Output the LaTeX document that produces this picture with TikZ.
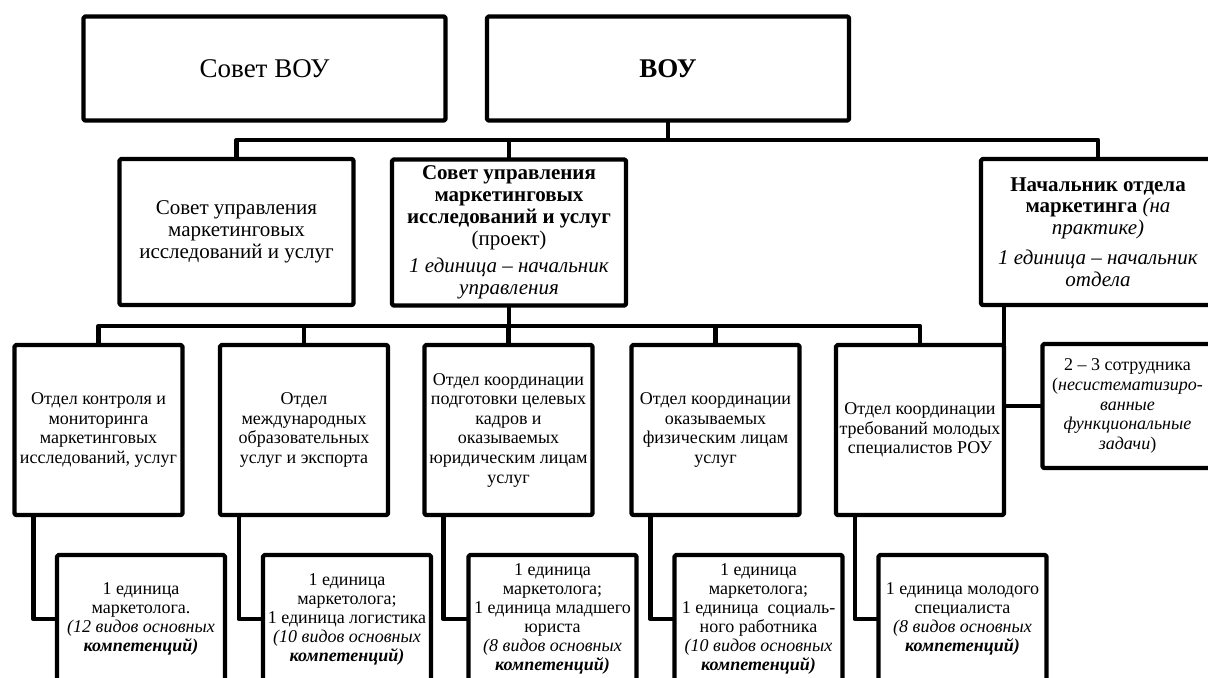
\documentclass[tikz,border=0pt]{standalone}
\usepackage{fontspec}
\setmainfont{Liberation Serif}
\usetikzlibrary{calc}

\begin{document}
\begin{tikzpicture}[x=0.5pt,y=-0.5pt,
  box/.style={draw,line width=2.2pt,line join=round,rounded corners=0.8pt,
    align=center,inner sep=1pt,outer sep=0pt},
  topbox/.style={box,minimum width=181pt,minimum height=52pt,
    font=\fontsize{13.5}{15}\selectfont},
  lonebox/.style={box,minimum width=117pt,minimum height=73pt,
    font=\fontsize{10.5}{10.9}\selectfont},
  ltwobox/.style={box,minimum width=84pt,minimum height=85pt,
    font=\fontsize{9}{9.8}\selectfont},
  lthreebox/.style={box,minimum width=84pt,minimum height=64pt,
    font=\fontsize{9}{9.5}\selectfont},
  link/.style={line width=2.2pt,line join=round}]

  % Fon
  \fill[white] (0,0) rectangle (1208,677);
  \useasboundingbox (0,0) rectangle (1208,677);

  % Verkhnii uroven
  \node[topbox] (sovet) at (264.5,68.5) {Совет ВОУ};
  \node[topbox] (vou) at (668,68.5) {\textbf{ВОУ}};

  % Pervyi uroven
  \node[lonebox] (lonea) at (236.5,232) {Совет управления\\маркетинговых\\исследований и услуг};
  \node[lonebox] (loneb) at (509,232.5) {\textbf{Совет управления}\\\textbf{маркетинговых}\\\textbf{исследований и услуг}\\(проект)\\[3pt]
    \textit{1 единица – начальник}\\\textit{управления}};
  \node[lonebox] (lonec) at (1098,232) {\textbf{Начальник отдела}\\\textbf{маркетинга} \textit{(на}\\\textit{практике)}\\[4pt]
    \textit{1 единица – начальник}\\\textit{отдела}};

  % Otdely
  \node[ltwobox] (b1) at (98.5,430) {Отдел контроля и\\мониторинга\\маркетинговых\\исследований, услуг};
  \node[ltwobox] (b2) at (304,430) {Отдел\\международных\\образовательных\\услуг и экспорта};
  \node[ltwobox] (b3) at (508.5,430) {Отдел координации\\подготовки целевых\\кадров и\\оказываемых\\юридическим лицам\\услуг};
  \node[ltwobox] (b4) at (715.5,430) {Отдел координации\\оказываемых\\физическим лицам\\услуг};
  \node[ltwobox] (b5) at (920,430) {Отдел координации\\требований молодых\\специалистов РОУ};
  \node[ltwobox,minimum width=85pt,minimum height=62pt] (staff) at (1127.5,406)
    {2 – 3 сотрудника\\(\textit{несистематизиро-}\\\textit{ванные}\\\textit{функциональные}\\\textit{задачи})};

  % Sotrudniki
  \node[lthreebox] (c1) at (141,619) {1 единица\\маркетолога.\\\textit{(12 видов основных}\\\textbf{\textit{компетенций)}}};
  \node[lthreebox] (c2) at (347,619) {1 единица\\маркетолога;\\1 единица логистика\\\textit{(10 видов основных}\\\textbf{\textit{компетенций)}}};
  \node[lthreebox] (c3) at (552.5,619) {1 единица\\маркетолога;\\1 единица младшего\\юриста\\\textit{(8 видов основных}\\\textbf{\textit{компетенций)}}};
  \node[lthreebox] (c4) at (758.5,619) {1 единица\\маркетолога;\\1 единица\ \ социаль-\\ного работника\\\textit{(10 видов основных}\\\textbf{\textit{компетенций)}}};
  \node[lthreebox] (c5) at (962.5,619) {1 единица молодого\\специалиста\\\textit{(8 видов основных}\\\textbf{\textit{компетенций)}}};

  % Shiny
  \coordinate (barone) at (668,140);
  \coordinate (bartwo) at (509,326);
  \draw[link] (lonea.north) |- (barone) -| (lonec.north);
  \draw[link] (vou.south) -- (vou.south |- barone);
  \draw[link] (loneb.north) -- (loneb.north |- barone);
  \draw[link] (b1.north) |- (bartwo) -| (b5.north);
  \draw[link] (loneb.south) -- (loneb.south |- bartwo);
  \foreach \n in {b2,b3,b4}
    \draw[link] (\n.north) -- (\n.north |- bartwo);
  \draw[link] (b5.east |- lonec.south) -- (b5.east |- staff.west) -- (staff.west);
  \foreach \i in {1,...,5}
    \draw[link] ([xshift=9.4pt]b\i.south west) |- (c\i.west);
\end{tikzpicture}
\end{document}
